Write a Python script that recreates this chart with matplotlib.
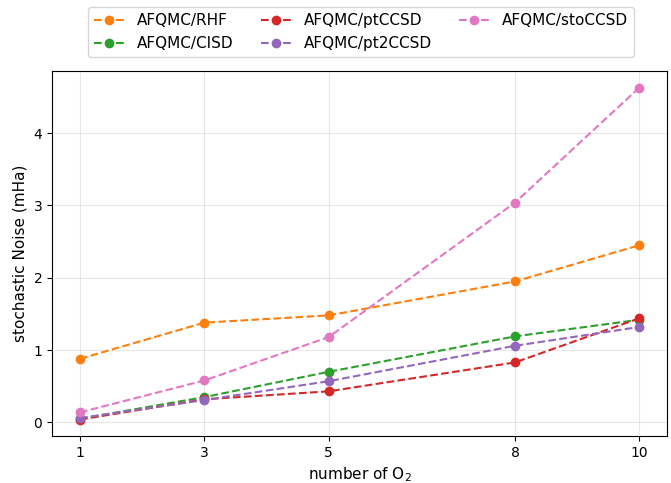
import matplotlib
matplotlib.use('Agg')
import matplotlib.pyplot as plt

n_o2 = [1, 3, 5, 8, 10]
rhf = [0.88, 1.38, 1.48, 1.95, 2.45]
cisd = [0.05, 0.35, 0.70, 1.19, 1.42]
ptccsd = [0.04, 0.32, 0.43, 0.83, 1.44]
pt2ccsd = [0.06, 0.31, 0.57, 1.06, 1.32]
stoccsd = [0.14, 0.58, 1.18, 3.04, 4.63]

fig = plt.figure(figsize=(6.71, 4.83), dpi=100)
ax = fig.add_axes([0.0775, 0.097, 0.917, 0.756])

ax.plot(n_o2, rhf, 'o--', color='C1', label='AFQMC/RHF')
ax.plot(n_o2, cisd, 'o--', color='C2', label='AFQMC/CISD')
ax.plot(n_o2, ptccsd, 'o--', color='C3', label='AFQMC/ptCCSD')
ax.plot(n_o2, pt2ccsd, 'o--', color='C4', label='AFQMC/pt2CCSD')
ax.plot(n_o2, stoccsd, 'o--', color='C6', label='AFQMC/stoCCSD')

ax.set_xticks(n_o2)
ax.set_xlabel('number of O$_2$', fontsize=11)
ax.set_ylabel('stochastic Noise (mHa)', fontsize=11)
ax.grid(alpha=0.3)

ax.legend(loc='lower center', bbox_to_anchor=(0.502, 1.017), ncol=3,
          fontsize=11, columnspacing=1.8)

plt.savefig('out.png', dpi=100)
